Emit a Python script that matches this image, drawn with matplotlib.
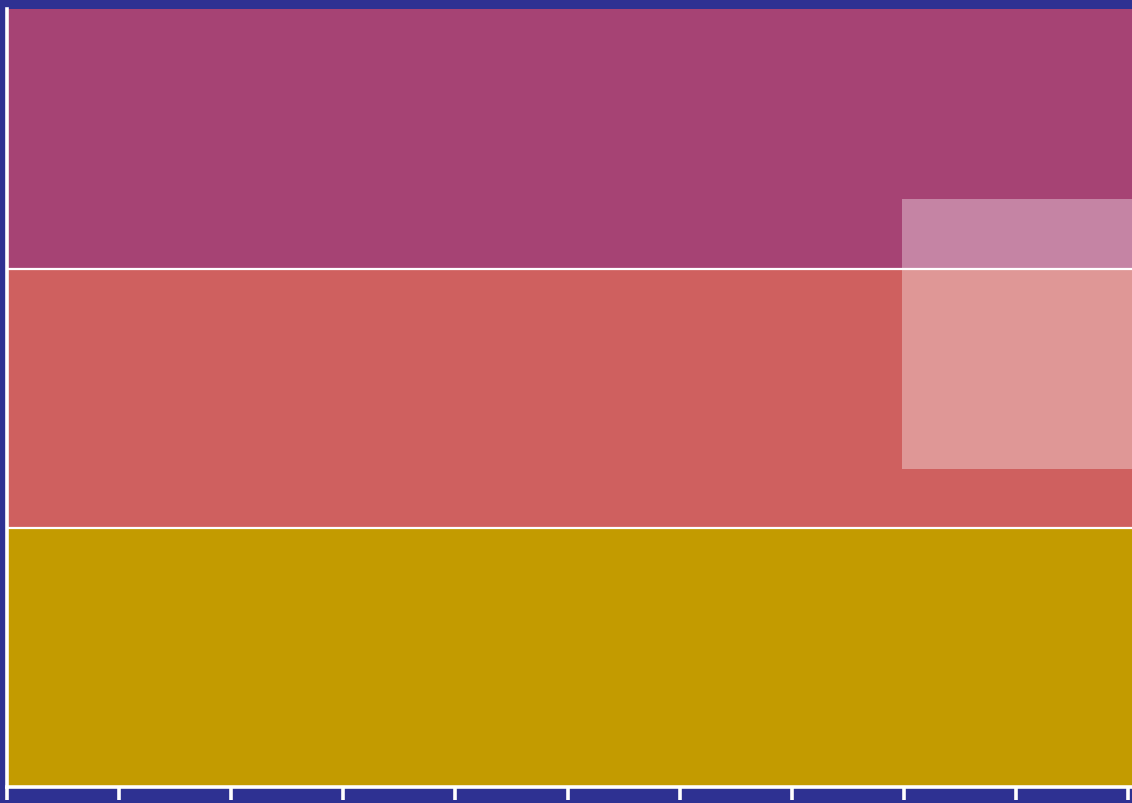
import matplotlib
matplotlib.use("Agg")
from matplotlib import pyplot as plt
from matplotlib.patches import Rectangle

# stacked bar, bottom to top
segments = ["base", "middle", "top"]
values = [25, 25, 25]
colors = ["#c39b00", "#cf605f", "#a64374"]

x_ticks = list(range(0, 12))
y_max = 76

# hover box drawn over the right side (data units)
hover_x = 7.98
hover_y = (30.7, 56.7)

bg = "#2e3192"
W, H = 1132, 804

fig = plt.figure(figsize=(W / 100, H / 100), dpi=100, facecolor=bg)
ax = fig.add_axes([7 / W, 16 / H, 112.1 * 11 / W, (H - 16) / H])
ax.set_facecolor(bg)

bottom = 0
for name, v, c in zip(segments, values, colors):
    ax.bar(5.5, v, width=11, bottom=bottom, color=c, edgecolor="none", label=name)
    bottom += v
    if bottom < sum(values):
        # white divider between stacked pieces
        ax.axhline(bottom, color="white", linewidth=1.6, zorder=3)

ax.add_patch(Rectangle((hover_x, hover_y[0]), 4, hover_y[1] - hover_y[0],
                       facecolor="white", alpha=0.35, edgecolor="none", zorder=5))

ax.set_xlim(0, 11)
ax.set_ylim(0, y_max)
ax.set_xticks(x_ticks)
ax.set_xticklabels([])
ax.set_yticks([])
for s in ["top", "right"]:
    ax.spines[s].set_visible(False)
for s in ["left", "bottom"]:
    ax.spines[s].set_color("white")
    ax.spines[s].set_linewidth(2.6)
    ax.spines[s].set_zorder(6)
ax.spines["left"].set_bounds(0, sum(values))
ax.tick_params(axis="x", direction="out", length=9, width=2.6, color="white")

fig.savefig("out.png", dpi=100, facecolor=bg)
